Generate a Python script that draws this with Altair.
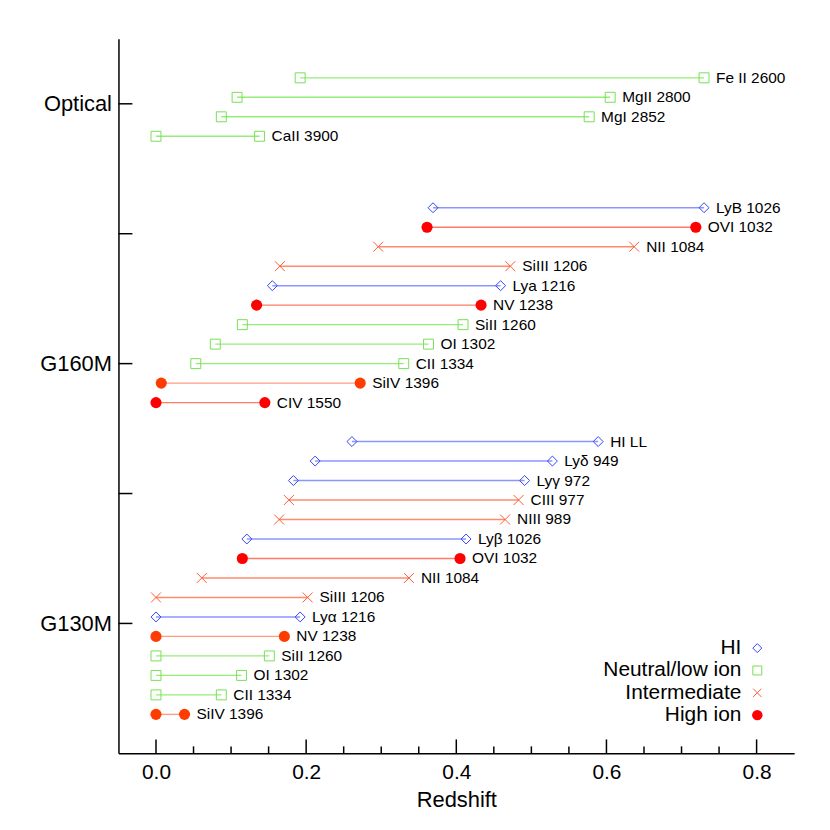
import altair as alt
import pandas as pd

# ---------------- data ----------------
GRATING = ["G130M"] * 15 + ["G160M"] * 11 + ["Optical"] * 4
LINE = [
    "SiIV 1396", "CII 1334", "OI 1302", "SiII 1260", "NV 1238", "Lyα 1216",
    "SiIII 1206", "NII 1084", "OVI 1032", "Lyβ 1026", "NIII 989", "CIII 977",
    "Lyγ 972", "Lyδ 949", "HI LL",
    "CIV 1550", "SiIV 1396", "CII 1334", "OI 1302", "SiII 1260", "NV 1238",
    "Lya 1216", "SiIII 1206", "NII 1084", "OVI 1032", "LyB 1026",
    "CaII 3900", "MgI 2852", "MgII 2800", "Fe II 2600",
]
KIND = [
    "High ion", "Neutral/low ion", "Neutral/low ion", "Neutral/low ion", "High ion", "HI",
    "Intermediate", "Intermediate", "High ion", "HI", "Intermediate", "Intermediate",
    "HI", "HI", "HI",
    "High ion", "High ion", "Neutral/low ion", "Neutral/low ion", "Neutral/low ion", "High ion",
    "HI", "Intermediate", "Intermediate", "High ion", "HI",
    "Neutral/low ion", "Neutral/low ion", "Neutral/low ion", "Neutral/low ion",
]
Z_START = [
    0.0, 0.0, 0.0, 0.0, 0.0, 0.0, 0.0, 0.061, 0.115, 0.121, 0.164, 0.177, 0.183, 0.212, 0.261,
    0.0, 0.007, 0.053, 0.079, 0.115, 0.134, 0.155, 0.165, 0.296, 0.361, 0.369,
    0.0, 0.087, 0.108, 0.192,
]
Z_END = [
    0.038, 0.087, 0.114, 0.151, 0.171, 0.192, 0.202, 0.337, 0.405, 0.413, 0.465, 0.483, 0.491, 0.528, 0.589,
    0.145, 0.272, 0.330, 0.363, 0.409, 0.433, 0.459, 0.472, 0.637, 0.719, 0.730,
    0.138, 0.577, 0.605, 0.730,
]
ROW = [
    0.30, 0.45, 0.60, 0.75, 0.90, 1.05, 1.20, 1.35, 1.50, 1.65, 1.80, 1.95, 2.10, 2.25, 2.40,
    2.70, 2.85, 3.00, 3.15, 3.30, 3.45, 3.60, 3.75, 3.90, 4.05, 4.20,
    4.75, 4.90, 5.05, 5.20,
]
# high-ion rows drawn in the orange-red shade
ORANGE_HIGH = {("G130M", "SiIV 1396"), ("G130M", "NV 1238"), ("G160M", "SiIV 1396")}

X_MAJOR = [0.0, 0.2, 0.4, 0.6, 0.8]
X_MINOR = [0.05, 0.1, 0.15, 0.25, 0.3, 0.35, 0.45, 0.5, 0.55, 0.65, 0.7, 0.75]
Y_TICKS = [1, 2, 3, 4, 5]
Y_TICK_LABELS = {1: "G130M", 3: "G160M", 5: "Optical"}
LEGEND = ["HI", "Neutral/low ion", "Intermediate", "High ion"]

# ---------------- styles ----------------
FONT = "Liberation Sans"
TONES = ["HI", "Neutral/low ion", "Intermediate", "High ion", "High ion b"]
MARKER_COLOR = ["#3344ff", "#77e055", "#ff5a36", "#ff0000", "#ff3c00"]
LINE_COLOR = ["#8c96ff", "#96ec78", "#ff8a6c", "#ff7a68", "#ff9c84"]
XPATH = "M-1,-1L1,1M-1,1L1,-1"

df = pd.DataFrame({
    "grating": GRATING, "label": LINE, "kind": KIND,
    "z1": Z_START, "z2": Z_END, "row": ROW,
})
df["tone"] = [
    "High ion b" if (g, l) in ORANGE_HIGH else k
    for g, l, k in zip(df["grating"], df["label"], df["kind"])
]

xscale = alt.Scale(domain=[-0.05, 0.85], nice=False, zero=False)
yscale = alt.Scale(domain=[0, 5.5], nice=False, zero=False)
label_expr = " : ".join(
    f"datum.value == {k} ? '{v}'" for k, v in Y_TICK_LABELS.items()
) + " : ''"
xaxis = alt.Axis(values=X_MAJOR, format=".1f", ticks=False, tickSize=0, grid=False,
                 labelFontSize=21, labelPadding=8, titleFontSize=22, titlePadding=7,
                 titleFontWeight="normal")
yaxis = alt.Axis(values=Y_TICKS, labelExpr=label_expr, ticks=False, tickSize=0, grid=False,
                 labelFontSize=22, labelPadding=7)


def X(field):
    return alt.X(field, type="quantitative", scale=xscale, axis=xaxis, title="Redshift")


def Y(field):
    return alt.Y(field, type="quantitative", scale=yscale, axis=yaxis, title=None)


base = alt.Chart(df)

rules = base.mark_rule(strokeWidth=1.4).encode(
    x=X("z1"), x2="z2", y=Y("row"),
    stroke=alt.Stroke("tone:N", scale=alt.Scale(domain=TONES, range=LINE_COLOR), legend=None),
)

pts = base.transform_fold(["z1", "z2"], as_=["end", "z"])


def marker_layer(kind, **mk):
    return pts.transform_filter(alt.datum.kind == kind).mark_point(**mk).encode(
        x=X("z:Q"), y=Y("row"),
        color=alt.Color("tone:N", scale=alt.Scale(domain=TONES, range=MARKER_COLOR), legend=None),
    )


m_hi = marker_layer("HI", shape="diamond", size=100, filled=False, strokeWidth=1, opacity=1)
m_low = marker_layer("Neutral/low ion", shape="square", size=100, filled=False, strokeWidth=1, opacity=1)
m_int = marker_layer("Intermediate", shape=XPATH, size=100, filled=False, strokeWidth=1, opacity=1)
m_high = marker_layer("High ion", shape="circle", size=125, filled=True, opacity=1)

labels = base.mark_text(align="left", baseline="middle", dx=12, fontSize=15.5, font=FONT,
                        color="black").encode(x=X("z2"), y=Y("row"), text="label:N")

# inward ticks
tick_df_major = pd.DataFrame({"t": X_MAJOR})
tick_df_minor = pd.DataFrame({"t": X_MINOR})
ytick_df = pd.DataFrame({"t": Y_TICKS})
xt_major = alt.Chart(tick_df_major).mark_rule(color="black", strokeWidth=1.5).encode(
    x=X("t"), y=alt.value(718), y2=alt.value(704))
xt_minor = alt.Chart(tick_df_minor).mark_rule(color="black", strokeWidth=1.5).encode(
    x=X("t"), y=alt.value(718), y2=alt.value(711))
yt = alt.Chart(ytick_df).mark_rule(color="black", strokeWidth=1.5).encode(
    y=Y("t"), x=alt.value(0), x2=alt.value(14))

# legend (text right-aligned with symbol to its right)
leg_df = pd.DataFrame({"kind": LEGEND, "i": list(range(len(LEGEND)))})
leg = alt.Chart(leg_df).transform_calculate(ly="0.81 - datum.i * 0.172")
leg_text = leg.mark_text(align="right", baseline="middle", fontSize=21, font=FONT,
                         color="black").encode(x=alt.value(626), y=Y("ly:Q"), text="kind:N")


def leg_sym(kind, color, **mk):
    return leg.transform_filter(alt.datum.kind == kind).mark_point(color=color, opacity=1, **mk).encode(
        x=alt.value(642), y=Y("ly:Q"))


leg_syms = [
    leg_sym("HI", MARKER_COLOR[0], shape="diamond", size=81, filled=False, strokeWidth=1),
    leg_sym("Neutral/low ion", MARKER_COLOR[1], shape="square", size=81, filled=False, strokeWidth=1),
    leg_sym("Intermediate", MARKER_COLOR[2], shape=XPATH, size=70, filled=False, strokeWidth=1),
    leg_sym("High ion", MARKER_COLOR[3], shape="circle", size=110, filled=True),
]

chart = alt.layer(
    rules, m_low, m_hi, m_int, m_high, labels, xt_major, xt_minor, yt, leg_text, *leg_syms
).properties(
    width=679, height=718,
    padding={"left": 111, "top": 29, "right": 28, "bottom": 70},
    autosize=alt.AutoSizeParams(type="none"),
    background="white",
).configure_view(stroke=None).configure_axis(
    domainColor="black", domainWidth=1.5, labelColor="black", titleColor="black",
    labelFont=FONT, titleFont=FONT,
)

chart.save("out.html", embed_options={"renderer": "svg", "actions": False})
